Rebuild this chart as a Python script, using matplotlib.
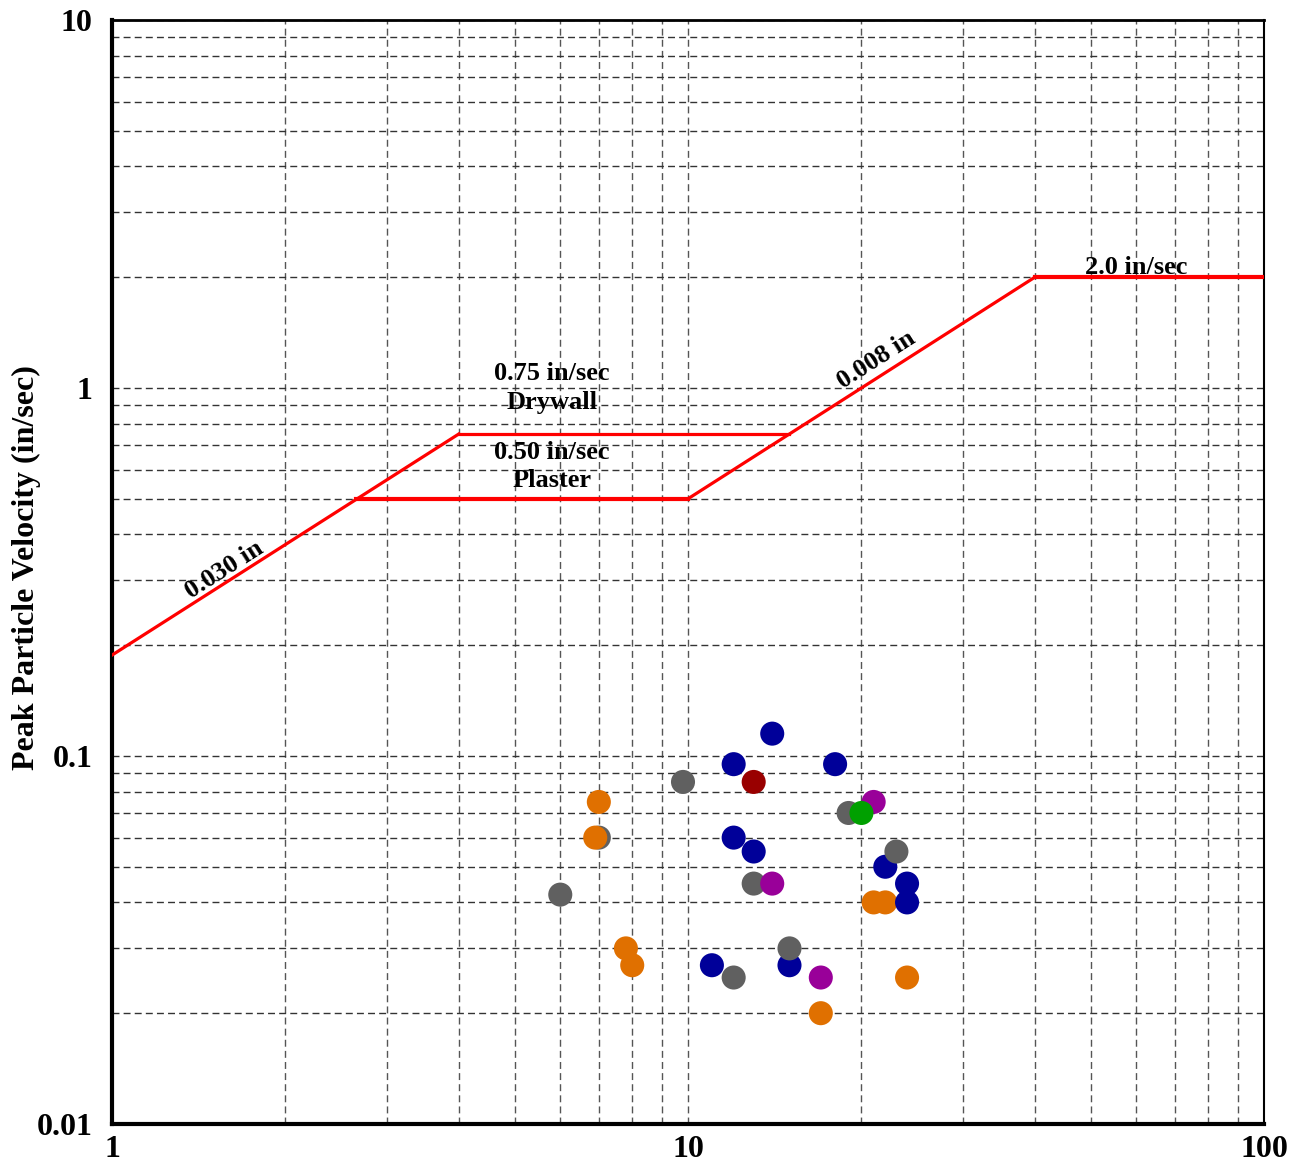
import matplotlib
matplotlib.use("Agg")
import matplotlib.pyplot as plt
import numpy as np
from matplotlib.ticker import LogLocator, FixedLocator, NullFormatter

plt.rcParams['font.family'] = ['Liberation Serif', 'DejaVu Serif']
plt.rcParams['font.weight'] = 'bold'

# criteria lines (frequency Hz, PPV in/sec)
disp030_f = [1.0, 4.0]
disp030_v = [0.188, 0.75]
drywall_f = [4.0, 15.0]
drywall_v = [0.75, 0.75]
plaster_f = [2.65, 10.0]
plaster_v = [0.5, 0.5]
disp008_f = [10.0, 40.0]
disp008_v = [0.5, 2.0]
max_f = [40.0, 100.0]
max_v = [2.0, 2.0]

# measured events, in drawing order
freq = [21, 22, 14, 12, 18, 12, 13, 22, 24, 24, 11, 15,
        9.8, 19, 7.0, 23, 13, 6.0, 12, 15,
        21, 14, 17,
        7.0, 6.9, 7.8, 8.0, 24, 17,
        13, 20]
ppv = [0.040, 0.040, 0.115, 0.095, 0.095, 0.060, 0.055, 0.050, 0.045, 0.040, 0.027, 0.027,
       0.085, 0.070, 0.060, 0.055, 0.045, 0.042, 0.025, 0.030,
       0.075, 0.045, 0.025,
       0.075, 0.060, 0.030, 0.027, 0.025, 0.020,
       0.085, 0.070]
group = ['o', 'o', 'b', 'b', 'b', 'b', 'b', 'b', 'b', 'b', 'b', 'b',
         'g', 'g', 'g', 'g', 'g', 'g', 'g', 'g',
         'p', 'p', 'p',
         'o', 'o', 'o', 'o', 'o', 'o',
         'r', 'G']
palette = {'b': '#000099', 'g': '#606060', 'p': '#990099',
           'o': '#E07000', 'r': '#990000', 'G': '#00A000'}

fig = plt.figure(figsize=(12.97, 11.68), dpi=100)
ax = fig.add_axes([0.0864, 0.0377, 0.8882, 0.9452])
ax.set_xscale('log')
ax.set_yscale('log')
ax.set_xlim(1, 100)
ax.set_ylim(0.01, 10)

red = '#FF0000'
ax.plot(disp030_f, disp030_v, color=red, lw=2.3, zorder=3)
ax.plot(drywall_f, drywall_v, color=red, lw=2.3, zorder=3)
ax.plot(plaster_f, plaster_v, color=red, lw=3, zorder=3)
ax.plot(disp008_f, disp008_v, color=red, lw=2.3, zorder=3)
ax.plot(max_f, max_v, color=red, lw=3, zorder=3)

ax.scatter(freq, ppv, s=300, c=[palette[g] for g in group], linewidths=0, zorder=4)

tsize = 19
ax.text(5.8, 1.0, '0.75 in/sec\nDrywall', ha='center', va='center', fontsize=tsize,
        fontweight='bold', linespacing=1.3)
ax.text(5.8, 0.612, '0.50 in/sec\nPlaster', ha='center', va='center', fontsize=tsize,
        fontweight='bold', linespacing=1.3)
ax.text(1.565, 0.32, '0.030 in', ha='center', va='center', fontsize=tsize,
        fontweight='bold', rotation=32.6)
ax.text(21.2, 1.19, '0.008 in', ha='center', va='center', fontsize=tsize,
        fontweight='bold', rotation=32.6)
ax.text(60, 2.13, '2.0 in/sec', ha='center', va='center', fontsize=tsize,
        fontweight='bold')

# grid on every decade subdivision
ax.xaxis.set_major_locator(FixedLocator([1, 10, 100]))
ax.yaxis.set_major_locator(FixedLocator([0.01, 0.1, 1, 10]))
ax.xaxis.set_minor_locator(LogLocator(base=10, subs=np.arange(2, 10)))
ax.yaxis.set_minor_locator(LogLocator(base=10, subs=np.arange(2, 10)))
ax.xaxis.set_minor_formatter(NullFormatter())
ax.yaxis.set_minor_formatter(NullFormatter())
ax.set_xticklabels(['1', '10', '100'])
ax.set_yticklabels(['0.01', '0.1', '1', '10'])
ax.grid(True, which='both', axis='y', color='#333333', lw=1, ls=(0, (5, 3)))
ax.grid(True, which='both', axis='x', color='#555555', lw=1, ls=(0, (5, 3)))
ax.tick_params(which='both', length=0)
ax.tick_params(axis='x', pad=8, labelsize=23)
ax.tick_params(axis='y', pad=14, labelsize=23)
for lab in ax.get_xticklabels() + ax.get_yticklabels():
    lab.set_fontweight('bold')

ax.set_ylabel('Peak Particle Velocity (in/sec)', fontsize=23, fontweight='bold')
ax.yaxis.set_label_coords(-0.0615, 0.5036)

ax.spines['left'].set_linewidth(3)
ax.spines['bottom'].set_linewidth(3)
ax.spines['top'].set_linewidth(2)
ax.spines['right'].set_linewidth(1.5)

fig.savefig('out.png', dpi=100)
